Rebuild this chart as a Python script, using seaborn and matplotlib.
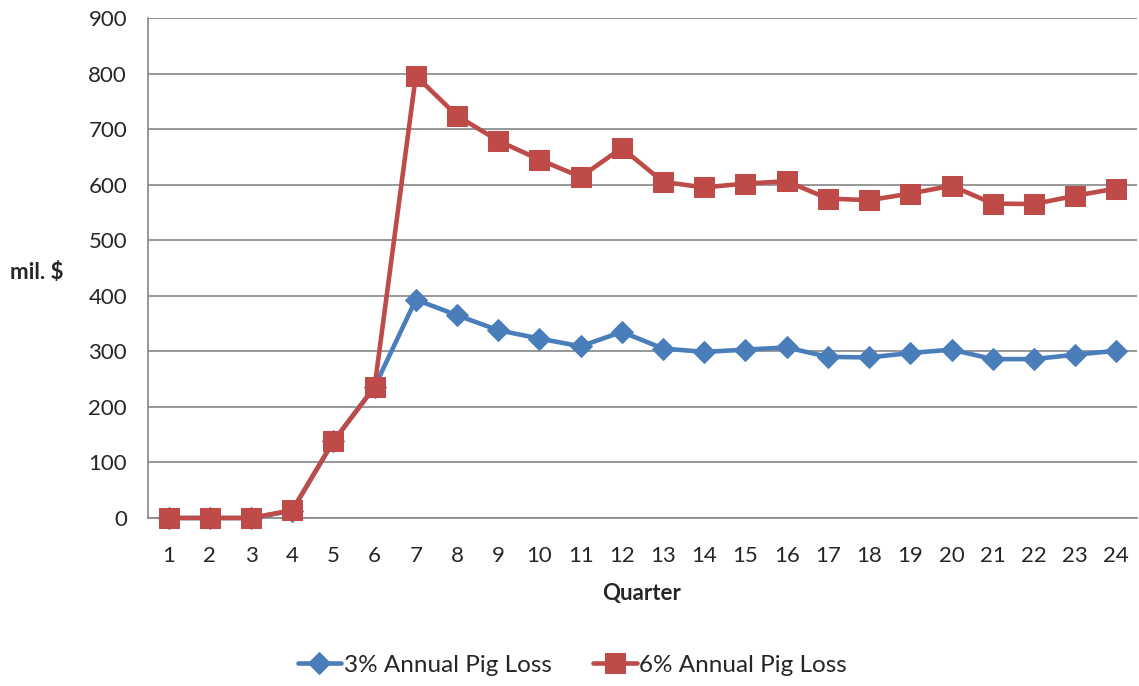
import numpy as np
import pandas as pd
import matplotlib
matplotlib.use('Agg')
import matplotlib.pyplot as plt
import seaborn as sns

quarters = list(range(1, 25))
loss_3pct = [0, 0, 0, 13, 138, 236, 393, 365, 338, 323, 309, 335,
             305, 299, 303, 307, 290, 289, 297, 303, 286, 286, 294, 301]
loss_6pct = [0, 0, 0, 14, 138, 236, 796, 724, 679, 645, 614, 666,
             605, 595, 602, 606, 575, 572, 584, 598, 566, 565, 580, 593]
series_names = ['3% Annual Pig Loss', '6% Annual Pig Loss']
y_ticks = [0, 100, 200, 300, 400, 500, 600, 700, 800, 900]

df = pd.DataFrame({
    'pos': list(range(len(quarters))) * 2,
    'value': loss_3pct + loss_6pct,
    'series': [series_names[0]] * len(quarters) + [series_names[1]] * len(quarters),
})

sns.set_style('white')
plt.rcParams['font.family'] = ['Lato', 'DejaVu Sans']

fig = plt.figure(figsize=(11.39, 6.86), dpi=100)
ax = fig.add_axes([0.1299, 0.2449, 0.8683, 0.7289])

grid_col = '#868686'
colors = {series_names[0]: '#4a7ebb', series_names[1]: '#be4b48'}
markers = {series_names[0]: 'D', series_names[1]: 's'}
sizes = {series_names[0]: 11, series_names[1]: 14}

for name in series_names:
    sub = df[df['series'] == name]
    sns.lineplot(data=sub, x='pos', y='value', ax=ax, color=colors[name],
                 marker=markers[name], markersize=sizes[name],
                 markeredgecolor=colors[name], linewidth=3.3,
                 label=name, zorder=3, clip_on=False)

ax.set_xlim(-0.5, len(quarters) - 0.5)
ax.set_ylim(0, 900)
ax.set_yticks(y_ticks)
ax.set_yticklabels([str(v) for v in y_ticks], fontsize=16)
ax.set_xticks(np.arange(-0.5, len(quarters), 1.0))
ax.set_xticklabels([])
ax.set_xticks(np.arange(len(quarters)), minor=True)
ax.set_xticklabels([str(q) for q in quarters], minor=True, fontsize=16)
ax.tick_params(axis='x', which='major', direction='out', length=5,
               color=grid_col, width=1.2)
ax.tick_params(axis='x', which='minor', length=0, pad=20)
ax.tick_params(axis='y', direction='out', length=5, color=grid_col,
               width=1.2, pad=10)

ax.yaxis.grid(True, color=grid_col, linewidth=1.2)
ax.set_axisbelow(True)
for s in ['top', 'right']:
    ax.spines[s].set_visible(False)
for s in ['left', 'bottom']:
    ax.spines[s].set_color(grid_col)
    ax.spines[s].set_linewidth(1.2)

ax.set_xlabel('')
ax.set_ylabel('')
fig.text(0.009, 0.603, 'mil. $', fontsize=16, fontweight='bold', ha='left', va='center')
fig.text(0.563, 0.135, 'Quarter', fontsize=16, fontweight='bold', ha='center', va='center')

ax.legend(loc='center', bbox_to_anchor=(0.429, -0.294), ncol=2, frameon=False,
          fontsize=17.5, handlelength=1.8, columnspacing=1.7, handletextpad=0.1)

fig.savefig('out.png', dpi=100)
